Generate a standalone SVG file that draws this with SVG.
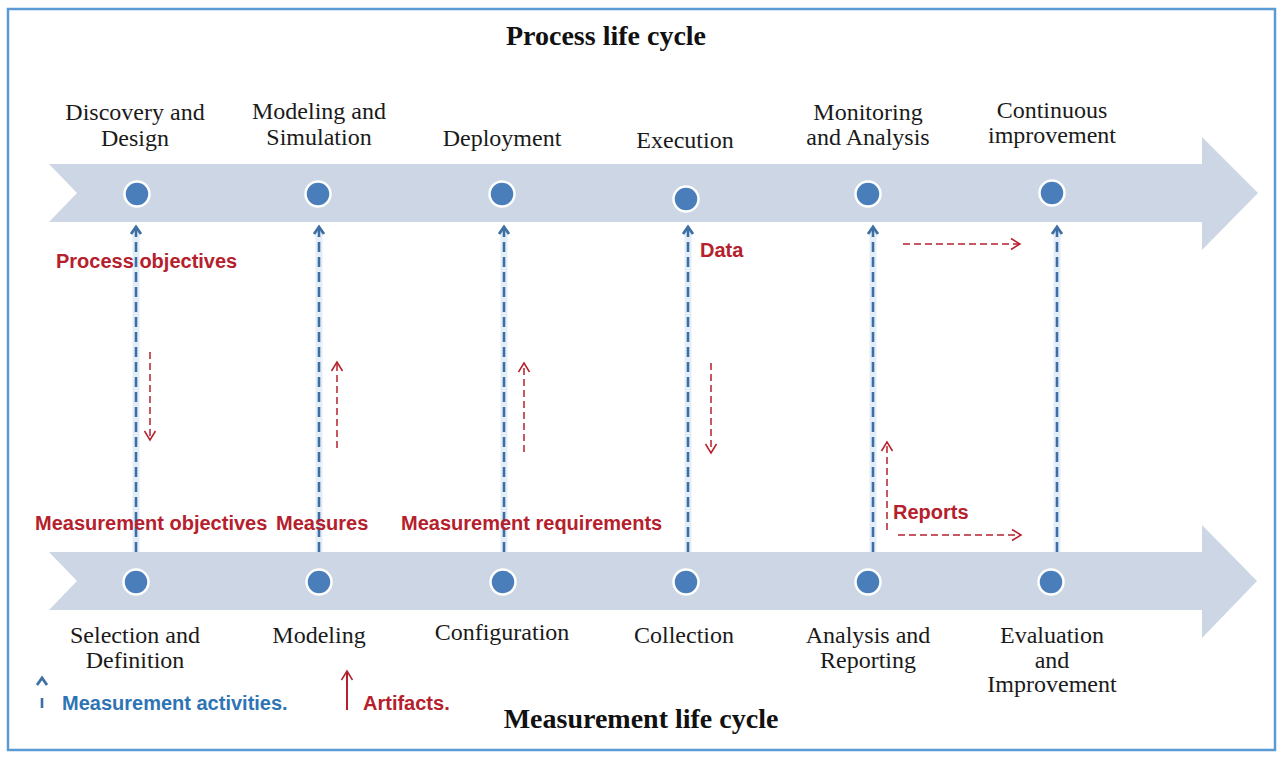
<svg xmlns="http://www.w3.org/2000/svg" width="1281" height="757" viewBox="0 0 1281 757">
<defs>
<style>
.band{fill:#cdd6e4}
.dot{fill:#4a7ebb;stroke:#ffffff;stroke-width:2.5}
.lbl{font-family:"Liberation Serif","Times New Roman",serif;font-size:24px;fill:#1a1a1a;text-anchor:middle}
.title{font-family:"Liberation Serif","Times New Roman",serif;font-size:28px;font-weight:bold;fill:#111111;text-anchor:middle}
.red{font-family:"Liberation Sans",Arial,sans-serif;font-size:20px;font-weight:bold;fill:#b5202c}
.bluet{font-family:"Liberation Sans",Arial,sans-serif;font-size:20px;font-weight:bold;fill:#2e74b5}
.halo{stroke:#e3eef9;stroke-width:7;fill:none}
.act{stroke:#3e6fa3;stroke-width:2.6;stroke-dasharray:10 5;fill:none}
.art{stroke:#b5202c;stroke-width:1.5;stroke-dasharray:7 4;fill:none}
</style>
<marker id="mb" markerUnits="userSpaceOnUse" orient="auto" markerWidth="14" markerHeight="14" refX="0" refY="0" viewBox="-10 -7 12 14" overflow="visible">
<path d="M-7,-5 L0,0 L-7,5" fill="none" stroke="#3e6fa3" stroke-width="2.8"/>
</marker>
<marker id="mr" markerUnits="userSpaceOnUse" orient="auto" markerWidth="14" markerHeight="14" refX="0" refY="0" viewBox="-10 -7 12 14" overflow="visible">
<path d="M-9,-5.5 L0,0 L-9,5.5" fill="none" stroke="#b5202c" stroke-width="1.5"/>
</marker>
</defs>
<rect x="0" y="0" width="1281" height="757" fill="#ffffff"/>
<rect id="frame" x="8" y="9" width="1267" height="741" fill="none" stroke="#5b9bd5" stroke-width="2.5"/>

<g id="process-band">
<polygon class="band" points="49,164 1202,164 1202,137 1258,193 1202,250 1202,222 49,222 77,193"/>
</g>
<g id="measurement-band">
<polygon class="band" points="49,552 1202,552 1202,525 1257,581 1202,638 1202,610 49,610 77,581"/>
</g>

<text id="title-process" class="title" x="606" y="45">Process life cycle</text>
<text id="title-measurement" class="title" x="641" y="728">Measurement life cycle</text>

<g id="connectors">
<g id="activities">
<line class="halo" x1="136" y1="552" x2="136" y2="232"/>
<line class="halo" x1="319" y1="552" x2="319" y2="232"/>
<line class="halo" x1="504" y1="552" x2="504" y2="232"/>
<line class="halo" x1="688" y1="552" x2="688" y2="232"/>
<line class="halo" x1="873" y1="552" x2="873" y2="232"/>
<line class="halo" x1="1057" y1="552" x2="1057" y2="232"/>
<line class="act" x1="136" y1="552" x2="136" y2="227" marker-end="url(#mb)"/>
<line class="act" x1="319" y1="552" x2="319" y2="227" marker-end="url(#mb)"/>
<line class="act" x1="504" y1="552" x2="504" y2="227" marker-end="url(#mb)"/>
<line class="act" x1="688" y1="552" x2="688" y2="227" marker-end="url(#mb)"/>
<line class="act" x1="873" y1="552" x2="873" y2="227" marker-end="url(#mb)"/>
<line class="act" x1="1057" y1="552" x2="1057" y2="227" marker-end="url(#mb)"/>
</g>
<g id="artifacts">
<line class="art" x1="150" y1="352" x2="150" y2="440" marker-end="url(#mr)"/>
<line class="art" x1="337" y1="448" x2="337" y2="362" marker-end="url(#mr)"/>
<line class="art" x1="524" y1="452" x2="524" y2="363" marker-end="url(#mr)"/>
<line class="art" x1="711" y1="363" x2="711" y2="453" marker-end="url(#mr)"/>
<line class="art" x1="887" y1="530" x2="887" y2="442" marker-end="url(#mr)"/>
<line class="art" x1="903" y1="244" x2="1020" y2="244" marker-end="url(#mr)"/>
<line class="art" x1="898" y1="535" x2="1021" y2="535" marker-end="url(#mr)"/>
</g>
</g>

<g id="p1"><circle class="dot" cx="137" cy="194" r="12.5"/><text class="lbl" x="135" y="120">Discovery and</text><text class="lbl" x="135" y="146">Design</text></g>
<g id="p2"><circle class="dot" cx="318" cy="194" r="12.5"/><text class="lbl" x="319" y="119">Modeling and</text><text class="lbl" x="319" y="145">Simulation</text></g>
<g id="p3"><circle class="dot" cx="502" cy="194" r="12.5"/><text class="lbl" x="502" y="146">Deployment</text></g>
<g id="p4"><circle class="dot" cx="686" cy="199" r="12.5"/><text class="lbl" x="685" y="148">Execution</text></g>
<g id="p5"><circle class="dot" cx="868" cy="194" r="12.5"/><text class="lbl" x="868" y="120">Monitoring</text><text class="lbl" x="868" y="145">and Analysis</text></g>
<g id="p6"><circle class="dot" cx="1052" cy="193" r="12.5"/><text class="lbl" x="1052" y="118">Continuous</text><text class="lbl" x="1052" y="143">improvement</text></g>

<g id="m1"><circle class="dot" cx="136" cy="582" r="12.5"/><text class="lbl" x="135" y="643">Selection and</text><text class="lbl" x="135" y="668">Definition</text></g>
<g id="m2"><circle class="dot" cx="319" cy="582" r="12.5"/><text class="lbl" x="319" y="643">Modeling</text></g>
<g id="m3"><circle class="dot" cx="503" cy="582" r="12.5"/><text class="lbl" x="502" y="640">Configuration</text></g>
<g id="m4"><circle class="dot" cx="686" cy="582" r="12.5"/><text class="lbl" x="684" y="643">Collection</text></g>
<g id="m5"><circle class="dot" cx="868" cy="582" r="12.5"/><text class="lbl" x="868" y="643">Analysis and</text><text class="lbl" x="868" y="668">Reporting</text></g>
<g id="m6"><circle class="dot" cx="1051" cy="582" r="12.5"/><text class="lbl" x="1052" y="643">Evaluation</text><text class="lbl" x="1052" y="668">and</text><text class="lbl" x="1052" y="692">Improvement</text></g>

<g id="artifact-labels">
<text class="red" x="56" y="268">Process objectives</text>
<text class="red" x="700" y="257">Data</text>
<text class="red" x="35" y="530">Measurement objectives</text>
<text class="red" x="276" y="530">Measures</text>
<text class="red" x="401" y="530">Measurement requirements</text>
<text class="red" x="893" y="519">Reports</text>
</g>

<g id="legend">
<line x1="42" y1="708" x2="42" y2="698" stroke="#3e6fa3" stroke-width="2.6"/>
<path d="M37,685 L42,678 L47,685" fill="none" stroke="#3e6fa3" stroke-width="2.8"/>
<text class="bluet" x="62" y="710">Measurement activities.</text>
<line x1="347" y1="710" x2="347" y2="671" stroke="#b5202c" stroke-width="2" marker-end="url(#mr)"/>
<text class="red" x="363" y="710">Artifacts.</text>
</g>
</svg>
